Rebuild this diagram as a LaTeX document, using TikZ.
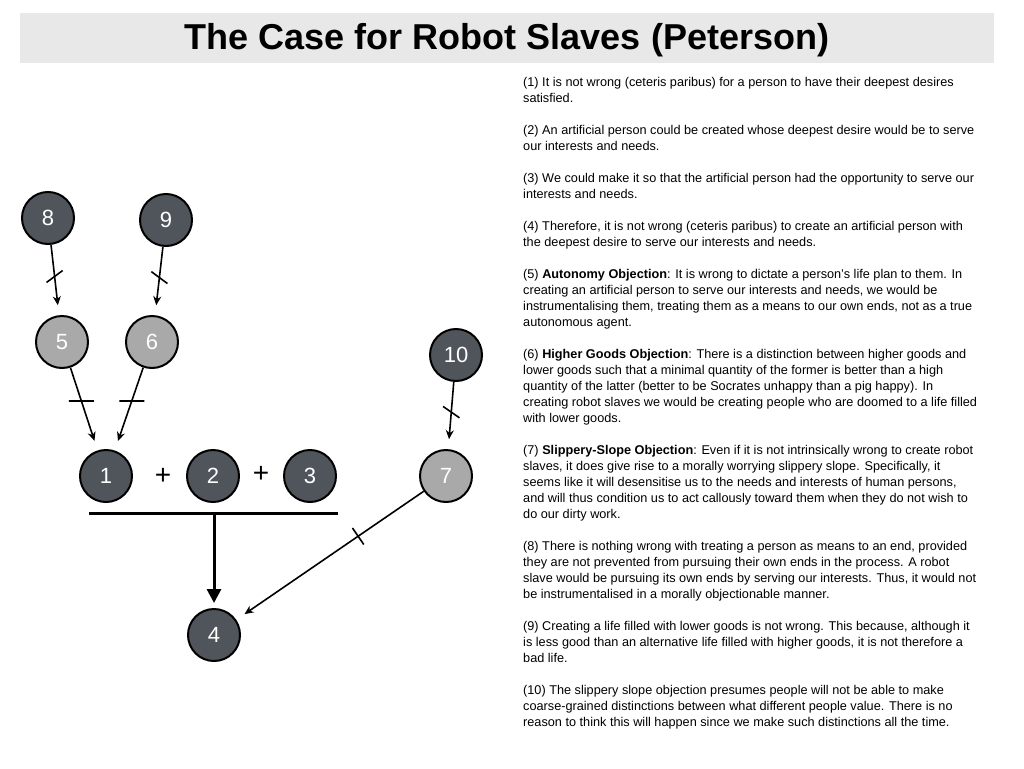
\documentclass[tikz,border=0pt]{standalone}
\usepackage{fontspec}
\setmainfont{Liberation Sans}
\usetikzlibrary{arrows.meta}
\definecolor{dk}{HTML}{50555C}
\definecolor{lt}{HTML}{A9A9A9}
\definecolor{band}{HTML}{E8E8E8}
\begin{document}
\begin{tikzpicture}[x=1pt,y=-1pt,
  nd/.style={circle,draw=black,line width=2pt,minimum size=52pt,inner sep=0,text=white,font=\fontsize{22}{22}\selectfont,text height=15.7pt,text depth=0pt},
  dark/.style={nd,fill=dk},
  light/.style={nd,fill=lt},
  arr/.style={-{Stealth[length=9pt,width=8pt]},line width=1.6pt,shorten >=10pt},
  tick/.style={draw,line width=1.6pt,minimum width=0pt,minimum height=20pt,inner sep=0,sloped,rotate=-30},
  htick/.style={draw,line width=1.6pt,minimum height=0pt,minimum width=25pt,inner sep=0},
  para/.style={anchor=north west,align=left,inner sep=0,font=\fontsize{12.7}{16}\selectfont}]
\useasboundingbox (0,0) rectangle (1024,768);
\fill[band] (20,13) rectangle (994,63);
\node[font=\bfseries\fontsize{36}{36}\selectfont] (title) at (507,40) {The Case for Robot Slaves (Peterson)};
\node[dark] (n8) at (48,218) {8};
\node[dark] (n9) at (166,220) {9};
\node[light] (n5) at (62,342) {5};
\node[light] (n6) at (152,342) {6};
\node[dark] (n10) at (456,355) {10};
\node[dark] (n1) at (106,476) {1};
\node[dark] (n2) at (213,476) {2};
\node[dark] (n3) at (310,476) {3};
\node[light] (n7) at (446,476) {7};
\node[dark] (n4) at (214,635) {4};
\node[font=\fontsize{28}{28}\selectfont] (p1) at (163,476) {+};
\node[font=\fontsize{28}{28}\selectfont] (p2) at (261,474) {+};
\draw[line width=3pt] (89,513) coordinate (bl) -- (338,513) coordinate (br);
\coordinate (bm) at (214,513);
\draw[line width=3pt,-{Triangle[length=14pt,width=14pt]},shorten >=5pt] (bm) -- (n4);
\draw[arr] (n8) -- node[tick,pos=0.45,rotate=60]{} (n5);
\draw[arr] (n9) -- node[tick,pos=0.45]{} (n6);
\draw[arr] (n10) -- node[tick,pos=0.45]{} (n7);
\draw[arr] (n5) -- node[htick,pos=0.4]{} (n1);
\draw[arr] (n6) -- node[htick,pos=0.4]{} (n1);
\draw[arr] (n7) -- node[tick,pos=0.35,rotate=30]{} (n4);
\node[para] (t1) at (523,77) {(1) It is not wrong (ceteris paribus) for a person to have their deepest desires\\satisfied.};
\node[para] (t2) at (523,125) {(2) An artificial person could be created whose deepest desire would be to serve\\our interests and needs.};
\node[para] (t3) at (523,173) {(3) We could make it so that the artificial person had the opportunity to serve our\\interests and needs.};
\node[para] (t4) at (523,221) {(4) Therefore, it is not wrong (ceteris paribus) to create an artificial person with\\the deepest desire to serve our interests and needs.};
\node[para] (t5) at (523,269) {(5) \textbf{Autonomy Objection}: It is wrong to dictate a person’s life plan to them. In\\creating an artificial person to serve our interests and needs, we would be\\instrumentalising them, treating them as a means to our own ends, not as a true\\autonomous agent.};
\node[para] (t6) at (523,349) {(6) \textbf{Higher Goods Objection}: There is a distinction between higher goods and\\lower goods such that a minimal quantity of the former is better than a high\\quantity of the latter (better to be Socrates unhappy than a pig happy). In\\creating robot slaves we would be creating people who are doomed to a life filled\\with lower goods.};
\node[para] (t7) at (523,445) {(7) \textbf{Slippery-Slope Objection}: Even if it is not intrinsically wrong to create robot\\slaves, it does give rise to a morally worrying slippery slope. Specifically, it\\seems like it will desensitise us to the needs and interests of human persons,\\and will thus condition us to act callously toward them when they do not wish to\\do our dirty work.};
\node[para] (t8) at (523,541) {(8) There is nothing wrong with treating a person as means to an end, provided\\they are not prevented from pursuing their own ends in the process. A robot\\slave would be pursuing its own ends by serving our interests. Thus, it would not\\be instrumentalised in a morally objectionable manner.};
\node[para] (t9) at (523,621) {(9) Creating a life filled with lower goods is not wrong. This because, although it\\is less good than an alternative life filled with higher goods, it is not therefore a\\bad life.};
\node[para] (t10) at (523,685) {(10) The slippery slope objection presumes people will not be able to make\\coarse-grained distinctions between what different people value. There is no\\reason to think this will happen since we make such distinctions all the time.};
\end{tikzpicture}
\end{document}
